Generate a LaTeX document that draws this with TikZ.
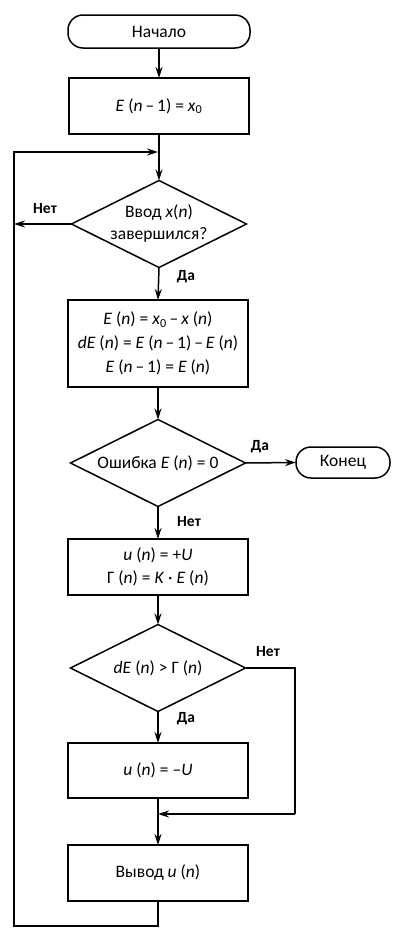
\documentclass[tikz,border=0pt]{standalone}
\usepackage{fontspec}
\setmainfont{Carlito}
\usetikzlibrary{shapes.geometric,arrows.meta}
\newcommand\vr[1]{\textit{#1}}
\newcommand\mn{\,–\,}
\begin{document}
\begin{tikzpicture}[x=1pt,y=-1pt,
  font=\fontsize{17.5}{22}\selectfont,
  line width=1.5pt,
  every node/.style={inner sep=0pt, outer sep=0pt},
  every label/.style={align=center, font=\fontsize{17.5}{22}\selectfont},
  proc/.style={draw, rectangle, minimum width=180pt, align=center},
  term/.style={draw, rectangle, rounded corners=15pt, align=center},
  test/.style={draw, diamond, minimum width=175pt, minimum height=87pt},
  flow/.style={-{Stealth[length=11pt,width=7pt]}},
  lbl/.style={font=\bfseries\fontsize{15.5}{18}\selectfont}
]
\useasboundingbox (0,0) rectangle (397,929);

% blocks
\node[term, minimum width=182pt, minimum height=33pt] (start) at (159,31.5) {Начало};
\node[proc, minimum height=56pt] (init) at (159,106) {\vr{E} (\vr{n}\mn1) = \vr{x}\textsubscript{0}};
\node[test, label={center:Ввод \vr{x}(\vr{n})\\завершился?}] (inp) at (159,224) {};
\node[proc, minimum height=87pt, font=\fontsize{17.5}{24}\selectfont] (err) at (158,343.5)
  {\vr{E} (\vr{n}) = \vr{x}\textsubscript{0}\mn\vr{x} (\vr{n})\\
   \vr{dE} (\vr{n}) = \vr{E} (\vr{n}\mn1)\mn\vr{E} (\vr{n})\\
   \vr{E} (\vr{n}\mn1) = \vr{E} (\vr{n})};
\node[test, label={center:Ошибка \vr{E} (\vr{n}) = 0}] (zero) at (158,463) {};
\node[term, minimum width=94pt, minimum height=31pt] (stop) at (343,462.5) {Конец};
\node[proc, minimum height=56pt, font=\fontsize{17.5}{23}\selectfont] (gain) at (158,567)
  {\vr{u} (\vr{n}) = +\vr{U}\\ Γ (\vr{n}) = \vr{K} · \vr{E} (\vr{n})};
\node[test, label={center:\vr{dE} (\vr{n}) > Γ (\vr{n})}] (cmp) at (158,668) {};
\node[proc, minimum height=55pt] (neg) at (158,770.5) {\vr{u} (\vr{n}) = –\vr{U}};
\node[proc, minimum height=56pt] (out) at (158,873) {Вывод \vr{u} (\vr{n})};

% junction points
\coordinate (loopin) at (158,152);
\coordinate (inpno) at (14,224);
\coordinate (merge) at (158,814);
\coordinate (cmpr) at (295,668);
\coordinate (cmprb) at (295,814);
\coordinate (botm) at (158,926);
\coordinate (botl) at (14,926);
\coordinate (topl) at (14,152);

% connectors
\draw[flow] (start) -- (init);
\draw[flow] (init) -- (inp);
\draw[flow] (inp.west) -- (inpno);
\draw[flow] (inp.south) -- (err.north);
\draw[flow] (err) -- (zero);
\draw[flow] (zero.east) -- (stop.west);
\draw[flow] (zero.south) -- (gain.north);
\draw[flow] (gain) -- (cmp);
\draw[flow] (cmp.south) -- (neg.north);
\draw (cmp.east) -- (cmpr) -- (cmprb);
\draw[flow] (cmprb) -- (merge);
\draw[flow] (neg) -- (out);
\draw[flow] (out.south) -- (botm) -- (botl) -- (topl) -- (loopin);

% branch labels
\node[lbl] (l1) at (45,209) {Нет};
\node[lbl] (l2) at (186,277) {Да};
\node[lbl] (l3) at (260,447) {Да};
\node[lbl] (l4) at (189,522) {Нет};
\node[lbl] (l5) at (268,652) {Нет};
\node[lbl] (l6) at (186,719) {Да};
\end{tikzpicture}
\end{document}
